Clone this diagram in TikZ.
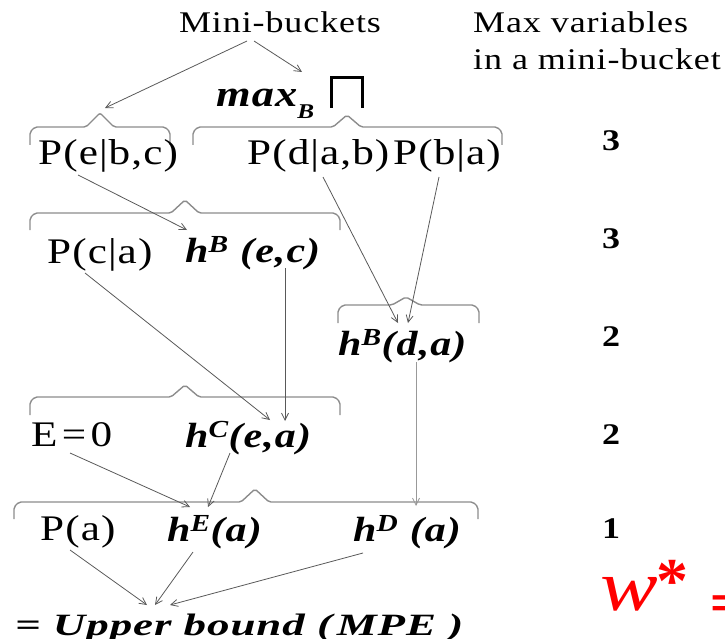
\documentclass[tikz,border=0pt]{standalone}
\usepackage{fontspec}
\setmainfont{Liberation Serif}
\newfontfamily\wf[FakeStretch=1.2,LetterSpace=3]{Liberation Serif}
\newfontfamily\wfb[FakeStretch=1.45,LetterSpace=3]{Liberation Serif}
\newfontfamily\eqfont{Liberation Sans}
\usetikzlibrary{arrows.meta}
\newcommand\mbbrace[6]{%
  \draw[bracestyle] (#1,#6) -- (#1,#4+5) -- (#1+5,#4) -- (#3-14,#4) -- (#3,#5) -- (#3+14,#4) -- (#2-5,#4) -- (#2,#4+5) -- (#2,#6);}
\begin{document}
\begin{tikzpicture}[x=1pt,y=-1pt,
  lbl/.style={inner sep=0pt, anchor=base west},
  rm/.style={lbl, font=\wf\fontsize{36}{40}\selectfont},
  hd/.style={lbl, font=\wf\fontsize{30}{34}\selectfont},
  bi/.style={lbl, font=\wf\fontsize{35}{40}\selectfont\bfseries\itshape},
  num/.style={inner sep=0pt, anchor=base, font=\wf\fontsize{30}{34}\selectfont\bfseries},
  arr/.style={draw=black!65, line width=0.8pt, -{Straight Barb[length=7pt,width=7pt]}},
  lightarr/.style={arr, draw=black!40},
  bracestyle/.style={draw=black!45, line width=1.4pt, rounded corners=2pt}]
\useasboundingbox (0,0) rectangle (725,639);

% headers
\node[hd, anchor=base] (mb) at (280,33) {Mini-buckets};
\node[hd] (mv1) at (473,33) {Max variables};
\node[hd] (mv2) at (473,70) {in a mini-bucket};
\node[bi, font=\wf\fontsize{37}{40}\selectfont\bfseries\itshape] (maxb) at (216,107) {max\raisebox{-0.3em}{\fontsize{21}{21}\selectfont B}};
\draw[line width=3pt] (331,108) -- (331,78) -- (362,78) -- (362,108);

% braces
\mbbrace{30}{170}{100}{127}{113}{145}
\mbbrace{193}{502}{347}{127}{115}{145}
\mbbrace{30}{340}{185}{213}{200}{230}
\mbbrace{338}{479}{406}{305}{297}{323}
\mbbrace{30}{340}{185}{397}{385}{415}
\mbbrace{14}{478}{255}{502}{489}{519}

% row 1
\node[rm] (pebc) at (38,165) {P(e|b,c)};
\node[rm] (pdab) at (247,165) {P(d|a,b)};
\node[rm] (pba) at (393,165) {P(b|a)};
% row 2
\node[rm] (pca) at (47,263) {P(c|a)};
\node[bi] (hbec) at (185,262) {h\textsuperscript{B} (e,c)};
% row 3
\node[bi] (hbda) at (338,355) {h\textsuperscript{B}(d,a)};
% row 4
\node[rm] (ezero) at (31,446) {E\hspace{0.12em}=\hspace{0.12em}0};
\node[bi] (hcea) at (185,447) {h\textsuperscript{C}(e,a)};
% row 5
\node[rm] (pa) at (40,540) {P(a)};
\node[bi] (hea) at (167,541) {h\textsuperscript{E}(a)};
\node[bi] (hda) at (353,541) {h\textsuperscript{D} (a)};
% result
\node[lbl, font=\wfb\fontsize{31}{36}\selectfont\bfseries\itshape] (ub) at (15,635) {= Upper bound\hspace{0.4em}(\hspace{0.15em}MPE )};

% numbers
\node[num] (n1) at (611,151) {3};
\node[num] (n2) at (611,248) {3};
\node[num] (n3) at (611,346) {2};
\node[num] (n4) at (611,444) {2};
\node[num] (n5) at (611,538) {1};

% w*
\node[inner sep=0pt, anchor=base west, text=red, font=\wf\fontsize{72}{72}\selectfont\itshape] (wst) at (600,610) {w};
\node[inner sep=0pt, anchor=north west, text=red, font=\fontsize{64}{64}\selectfont\bfseries] (star) at (656,560) {*};
\node[inner sep=0pt, anchor=north west, text=red, font=\eqfont\fontsize{40}{40}\selectfont\bfseries] (eq) at (711,595) {=};

% connector end points
\coordinate (s1) at (247,41);  \coordinate (e1) at (105,108);
\coordinate (s2) at (254,41);  \coordinate (e2) at (302,72);
\coordinate (s3) at (78,175);  \coordinate (e3) at (187,230);
\coordinate (s4) at (85,273);  \coordinate (e4) at (270,420);
\coordinate (s5) at (285,268); \coordinate (e5) at (285,421);
\coordinate (s6) at (323,177); \coordinate (e6) at (398,323);
\coordinate (s7) at (439,177); \coordinate (e7) at (408,323);
\coordinate (s8) at (416,362); \coordinate (e8) at (416,506);
\coordinate (s9) at (70,453);  \coordinate (e9) at (190,507);
\coordinate (s10) at (230,453); \coordinate (e10) at (208,507);
\coordinate (s11) at (70,550); \coordinate (e11) at (147,605);
\coordinate (s12) at (193,552); \coordinate (e12) at (155,605);
\coordinate (s13) at (363,553); \coordinate (e13) at (170,605);

\draw[arr] (s1) -- (e1);
\draw[arr] (s2) -- (e2);
\draw[arr] (s3) -- (e3);
\draw[arr] (s4) -- (e4);
\draw[arr] (s5) -- (e5);
\draw[arr] (s6) -- (e6);
\draw[arr] (s7) -- (e7);
\draw[lightarr] (s8) -- (e8);
\draw[arr] (s9) -- (e9);
\draw[arr] (s10) -- (e10);
\draw[arr] (s11) -- (e11);
\draw[arr] (s12) -- (e12);
\draw[arr] (s13) -- (e13);
\end{tikzpicture}
\end{document}
